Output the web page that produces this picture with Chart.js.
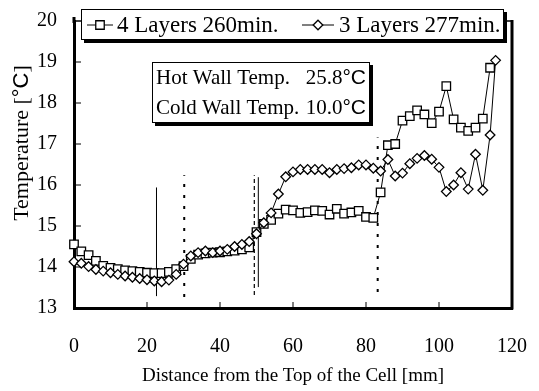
<!DOCTYPE html>
<html>
<head>
<meta charset="utf-8">
<script src="https://cdn.jsdelivr.net/npm/chart.js@4.4.1/dist/chart.umd.min.js"></script>
<style>
  html, body { margin: 0; padding: 0; background: #fff; }
  #wrap { position: relative; width: 539px; height: 391px; }
</style>
</head>
<body>
<div id="wrap"><canvas id="temp-chart"></canvas></div>
<script>
const SERIF = '"Liberation Serif", "Times New Roman", serif';
const SANS  = '"Liberation Sans", Arial, sans-serif';

// 4 layers, 260 min: distance [mm] / temperature [°C]
const xLay4 = [0, 2, 4, 6, 8, 10, 12, 14, 16, 18, 20, 22, 24, 26, 28, 30, 32, 34, 36, 38,
  40, 42, 44, 46, 48, 50, 52, 54, 56, 58, 60, 62, 64, 66, 68, 70, 72, 74, 76, 78,
  80, 82, 84, 86, 88, 90, 92, 94, 96, 98, 100, 102, 104, 106, 108, 110, 112, 114];
const tLay4 = [14.55, 14.38, 14.29, 14.15, 14.03, 13.98, 13.95, 13.92, 13.90, 13.88,
  13.86, 13.85, 13.85, 13.88, 13.95, 14.02, 14.20, 14.30, 14.33, 14.35,
  14.36, 14.38, 14.40, 14.43, 14.48, 14.85, 15.05, 15.15, 15.30, 15.40,
  15.38, 15.32, 15.34, 15.38, 15.37, 15.28, 15.42, 15.30, 15.33, 15.37,
  15.22, 15.20, 15.82, 16.97, 17.00, 17.57, 17.68, 17.82, 17.72, 17.51,
  17.79, 18.41, 17.60, 17.40, 17.32, 17.40, 17.62, 18.86];

// 3 layers, 277 min
const xLay3 = [0, 2, 4, 6, 8, 10, 12, 14, 16, 18, 20, 22, 24, 26, 28, 30, 32, 34, 36, 38,
  40, 42, 44, 46, 48, 50, 52, 54, 56, 58, 60, 62, 64, 66, 68, 70, 72, 74, 76, 78,
  80, 82, 84, 86, 88, 90, 92, 94, 96, 98, 100, 102, 104, 106, 108, 110, 112, 114, 115.5];
const tLay3 = [14.13, 14.09, 14.01, 13.94, 13.90, 13.86, 13.82, 13.78, 13.75, 13.72,
  13.69, 13.66, 13.64, 13.68, 13.82, 14.07, 14.27, 14.35, 14.39, 14.35,
  14.39, 14.43, 14.50, 14.55, 14.62, 14.81, 15.08, 15.32, 15.78, 16.20,
  16.32, 16.38, 16.38, 16.38, 16.38, 16.30, 16.38, 16.40, 16.42, 16.49,
  16.49, 16.41, 16.34, 16.62, 16.22, 16.29, 16.52, 16.65, 16.72, 16.63,
  16.43, 15.84, 16.00, 16.30, 15.90, 16.75, 15.87, 17.22, 19.04];

// layer boundary markers: position and vertical extent
const markX   = [22.6, 30.2, 49.4, 50.5, 83.2];
const markTop = [15.94, 16.24, 16.24, 16.19, 17.16];
const markBot = [13.29, 13.27, 13.32, 13.51, 13.39];

const xTicks = [0, 20, 40, 60, 80, 100, 120];
const yTicks = [13, 14, 15, 16, 17, 18, 19, 20];

const seriesNames = ['4 Layers 260min.', '3 Layers 277min.'];
const wallText = [['Hot Wall Temp.', '25.8'], ['Cold Wall Temp.', '10.0']];
const xTitle = 'Distance from the Top of the Cell [mm]';

const toXY = (xs, ys) => xs.map((x, i) => ({ x, y: ys[i] }));

const markDash  = [[], [3, 8], [4, 3], [], [3, 8]];
const markWidth = [1, 2, 1.2, 1, 2];

const datasets = [
  { data: toXY(xLay3, tLay3), pointStyle: 'rectRot', pointRadius: 4.8, clip: false,
    borderColor: '#000', backgroundColor: '#fff', borderWidth: 1, pointBorderWidth: 1.3, order: 0 },
  { data: toXY(xLay4, tLay4), pointStyle: 'rect', pointRadius: 6, clip: false,
    borderColor: '#000', backgroundColor: '#fff', borderWidth: 1, pointBorderWidth: 1.3, order: 1 },
];
markX.forEach((mx, i) => datasets.push({
  data: [{ x: mx, y: markBot[i] }, { x: mx, y: markTop[i] }],
  borderColor: '#000', borderWidth: markWidth[i], borderDash: markDash[i],
  pointRadius: 0, order: 2
}));

function line(ctx, x1, y1, x2, y2) {
  ctx.beginPath(); ctx.moveTo(x1, y1); ctx.lineTo(x2, y2); ctx.stroke();
}

function shadowBox(ctx, l, t, r, b) {
  ctx.fillStyle = '#000';
  ctx.fillRect(l + 3, t + 3, r - l, b - t);
  ctx.fillStyle = '#fff';
  ctx.fillRect(l, t, r - l, b - t);
  ctx.strokeStyle = '#000'; ctx.lineWidth = 1;
  ctx.strokeRect(l + 0.5, t + 0.5, r - l - 1, b - t - 1);
}

const decor = {
  id: 'decor',
  afterDatasetsDraw(chart) {
    const { ctx, chartArea: a, scales: { x, y } } = chart;
    ctx.save();
    ctx.strokeStyle = '#000';

    // rest of the frame
    ctx.lineWidth = 3;
    line(ctx, a.right, a.top - 1, a.right, a.bottom + 1.5);
    line(ctx, a.left, a.top - 4, a.left, a.top + 2);
    ctx.lineWidth = 1.5;
    line(ctx, a.left, a.top, a.right, a.top);

    // inward tick marks
    ctx.lineWidth = 1;
    yTicks.slice(1, -1).forEach(v => { const py = y.getPixelForValue(v); line(ctx, a.left, py, a.left + 7, py); });
    xTicks.slice(1, -1).forEach(v => { const px = x.getPixelForValue(v); line(ctx, px, a.bottom, px, a.bottom - 6); });

    // legend
    shadowBox(ctx, 81, 9, 504, 40);
    const ly = 25;
    const P = Chart.helpers.drawPoint;
    ctx.lineWidth = 1;
    line(ctx, 87, ly, 113, ly);
    line(ctx, 302, ly, 334, ly);
    ctx.fillStyle = '#fff'; ctx.lineWidth = 1.3;
    P(ctx, { pointStyle: 'rect', radius: 6, borderWidth: 1.3 }, 100, ly);
    P(ctx, { pointStyle: 'rectRot', radius: 4.8, borderWidth: 1.3 }, 318, ly);
    ctx.fillStyle = '#000';
    ctx.font = '23px ' + SERIF;
    ctx.textBaseline = 'middle'; ctx.textAlign = 'left';
    ctx.fillText(seriesNames[0], 117, ly + 1);
    ctx.fillText(seriesNames[1], 339, ly + 1);

    // wall temperatures
    shadowBox(ctx, 152, 62, 370, 123);
    ctx.fillStyle = '#000';
    const rows = [78, 108];
    const right = 366;
    wallText.forEach((r, i) => {
      ctx.font = '21px ' + SANS;
      const wc = ctx.measureText('°C').width;
      ctx.textAlign = 'left';
      ctx.fillText('°C', right - wc, rows[i]);
      ctx.font = '21px ' + SERIF;
      ctx.textAlign = 'right';
      ctx.fillText(r[1], right - wc, rows[i]);
      ctx.textAlign = 'left';
      ctx.fillText(r[0], 156, rows[i]);
    });

    // y axis title
    ctx.translate(22, 143);
    ctx.rotate(-Math.PI / 2);
    const parts = [['Temperature [', SERIF], ['°C', SANS], [']', SERIF]];
    let w = 0;
    parts.forEach(p => { ctx.font = '22px ' + p[1]; w += ctx.measureText(p[0]).width; });
    let px = -w / 2;
    ctx.textAlign = 'left';
    parts.forEach(p => { ctx.font = '22px ' + p[1]; ctx.fillText(p[0], px, 0); px += ctx.measureText(p[0]).width; });
    ctx.restore();
  }
};

new Chart(document.getElementById('temp-chart'), {
  type: 'line',
  data: { datasets },
  plugins: [decor],
  options: {
    responsive: true, maintainAspectRatio: false, animation: false,
    layout: { padding: { top: 21, right: 27, bottom: 0, left: 0 } },
    elements: { line: { tension: 0, fill: false } },
    plugins: { legend: { display: false }, tooltip: { enabled: false } },
    scales: {
      x: {
        type: 'linear', min: 0, max: 120,
        afterBuildTicks: s => { s.ticks = xTicks.map(v => ({ value: v })); },
        afterFit: s => { s.height = 83; s.paddingLeft = 0; s.paddingRight = 0; },
        grid: { display: false, drawTicks: false },
        border: { color: '#000', width: 3 },
        ticks: { color: '#000', padding: 27, maxRotation: 0, font: { family: SERIF, size: 20 } },
        title: { display: true, text: xTitle, color: '#000', padding: { top: 0, bottom: 4 },
                 font: { family: SERIF, size: 19 } }
      },
      y: {
        type: 'linear', min: 13, max: 20,
        afterBuildTicks: s => { s.ticks = yTicks.map(v => ({ value: v })); },
        afterFit: s => { s.width = 74; s.paddingTop = 0; s.paddingBottom = 0; },
        grid: { display: false, drawTicks: false },
        border: { color: '#000', width: 3 },
        ticks: { color: '#000', padding: 17, font: { family: SERIF, size: 20 } }
      }
    }
  }
});
</script>
</body>
</html>
